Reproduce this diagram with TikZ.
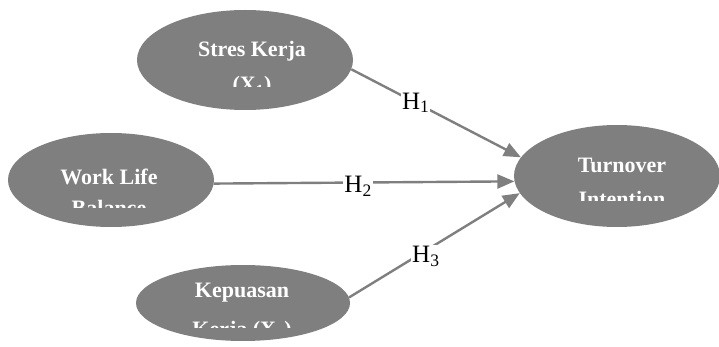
\documentclass[tikz,border=0pt]{standalone}
\usepackage{fontspec}
\setmainfont{Liberation Serif}
\usetikzlibrary{arrows.meta,shapes.geometric}
\definecolor{construct}{HTML}{7F7F7F}
\tikzset{
  construct/.style={ellipse, fill=construct, draw=none, inner sep=0pt},
  ctext/.style={text=white, font=\fontsize{22}{24}\selectfont\bfseries, anchor=base, inner sep=0pt},
  path/.style={draw=construct, line width=2.4pt, -{Triangle[length=17pt,width=14pt]}},
  hyp/.style={fill=white, text=black, font=\fontsize{25}{28}\selectfont, inner sep=1pt}
}
\begin{document}
\begin{tikzpicture}[x=1pt,y=-1pt]
\useasboundingbox (0,0) rectangle (719,347);

% latent constructs
\node[construct, minimum width=216pt, minimum height=100pt] (x1) at (245,60) {};
\node[construct, minimum width=206pt, minimum height=94pt]  (x2) at (111,180) {};
\node[construct, minimum width=214pt, minimum height=76pt]  (x3) at (243,303) {};
\node[construct, minimum width=206pt, minimum height=102pt] (y)  at (617,176) {};

% construct names, cut off at the bottom of their text frames
\begin{scope}
  \clip (130,0) rectangle (370,87);
  \node[ctext] (x1a) at (252,57) {Stres Kerja};
  \node[ctext] (x1b) at (252,92) {(X\textsubscript{1})};
\end{scope}
\begin{scope}
  \clip (0,120) rectangle (230,208);
  \node[ctext] (x2a) at (109,185) {Work Life};
  \node[ctext] (x2b) at (109,215) {Balance};
\end{scope}
\begin{scope}
  \clip (130,260) rectangle (370,327);
  \node[ctext] (x3a) at (242,297) {Kepuasan};
  \node[ctext] (x3b) at (242,336) {Kerja (X\textsubscript{3})};
\end{scope}
\begin{scope}
  \clip (500,110) rectangle (719,201);
  \node[ctext] (ya) at (622,173) {Turnover};
  \node[ctext] (yb) at (622,207) {Intention};
\end{scope}

% hypothesised paths
\draw[path] (x1.-5) -- node[hyp, pos=0.38] {H\textsubscript{1}} (y.169);
\draw[path] (x2.-2) -- node[hyp, pos=0.48, yshift=-4pt] {H\textsubscript{2}} (y.183);
\draw[path] (x3.3)  -- node[hyp, pos=0.45, yshift=-6pt] {H\textsubscript{3}} (y.190);
\end{tikzpicture}
\end{document}
